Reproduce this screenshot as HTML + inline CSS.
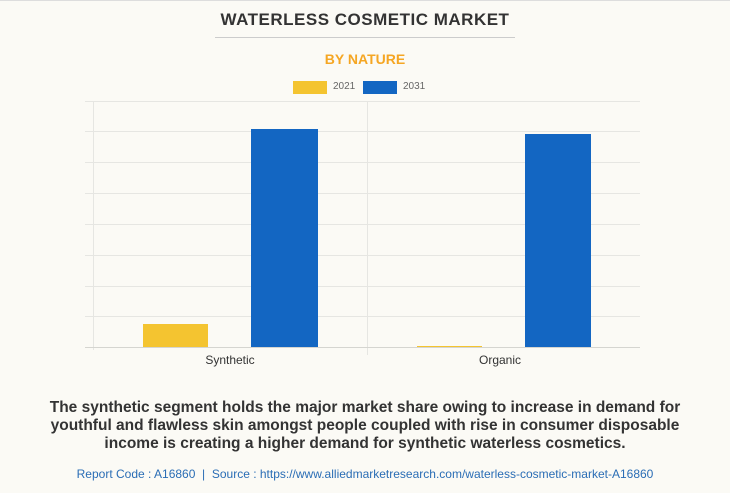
<!DOCTYPE html>
<html><head><style>
body{margin:0;width:730px;height:493px;background:#fbfaf5;font-family:"Liberation Sans",sans-serif;position:relative;overflow:hidden}
.a{position:absolute}
</style></head><body>
<div class="a" style="left:0;top:0;width:730px;height:1px;background:#ddd"></div>
<div class="a" style="left:0;top:10px;width:730px;text-align:center;font-weight:bold;font-size:17px;color:#333;letter-spacing:0.5px">WATERLESS COSMETIC MARKET</div>
<div class="a" style="left:215px;top:37px;width:300px;height:1px;background:#ccc"></div>
<div class="a" style="left:0;top:51px;width:730px;text-align:center;font-weight:bold;font-size:14px;color:#f5a623">BY NATURE</div>
<div class="a" style="left:293px;top:81px;width:34px;height:13px;background:#f4c430"></div>
<div class="a" style="left:333px;top:81px;font-size:10px;color:#666">2021</div>
<div class="a" style="left:363px;top:81px;width:34px;height:13px;background:#1366c2"></div>
<div class="a" style="left:403px;top:81px;font-size:10px;color:#666">2031</div>
<svg class="a" style="left:0;top:0" width="730" height="493">
<g stroke="#e6e6e2" stroke-width="1">
<line x1="85" x2="640" y1="101.5" y2="101.5"/><line x1="85" x2="640" y1="131.5" y2="131.5"/>
<line x1="85" x2="640" y1="162.5" y2="162.5"/><line x1="85" x2="640" y1="193.5" y2="193.5"/>
<line x1="85" x2="640" y1="224.5" y2="224.5"/><line x1="85" x2="640" y1="255.5" y2="255.5"/>
<line x1="85" x2="640" y1="286.5" y2="286.5"/><line x1="85" x2="640" y1="316.5" y2="316.5"/>
<line x1="93.5" x2="93.5" y1="101" y2="350"/><line x1="367.5" x2="367.5" y1="101" y2="355"/>
</g>
<line x1="85" x2="640" y1="347.5" y2="347.5" stroke="#d5d5d0"/>
<rect x="143" y="324" width="65" height="23" fill="#f4c430"/>
<rect x="251" y="129" width="67" height="218" fill="#1366c2"/>
<rect x="417" y="346" width="65" height="1" fill="#f4c430"/>
<rect x="525" y="134" width="66" height="213" fill="#1366c2"/>
<text x="230" y="364" text-anchor="middle" font-size="12" fill="#333" font-family="Liberation Sans">Synthetic</text>
<text x="500" y="364" text-anchor="middle" font-size="12" fill="#333" font-family="Liberation Sans">Organic</text>
</svg>
<div class="a" style="left:35px;top:399px;width:660px;text-align:center;font-weight:bold;font-size:15.5px;line-height:18px;color:#333">The synthetic segment holds the major market share owing to increase in demand for youthful and flawless skin amongst people coupled with rise in consumer disposable income is creating a higher demand for synthetic waterless cosmetics.</div>
<div class="a" style="left:0;top:467px;width:730px;text-align:center;font-size:12px;color:#2a6db5">Report Code : A16860 &nbsp;|&nbsp; Source : https://www.alliedmarketresearch.com/waterless-cosmetic-market-A16860</div>
</body></html>
